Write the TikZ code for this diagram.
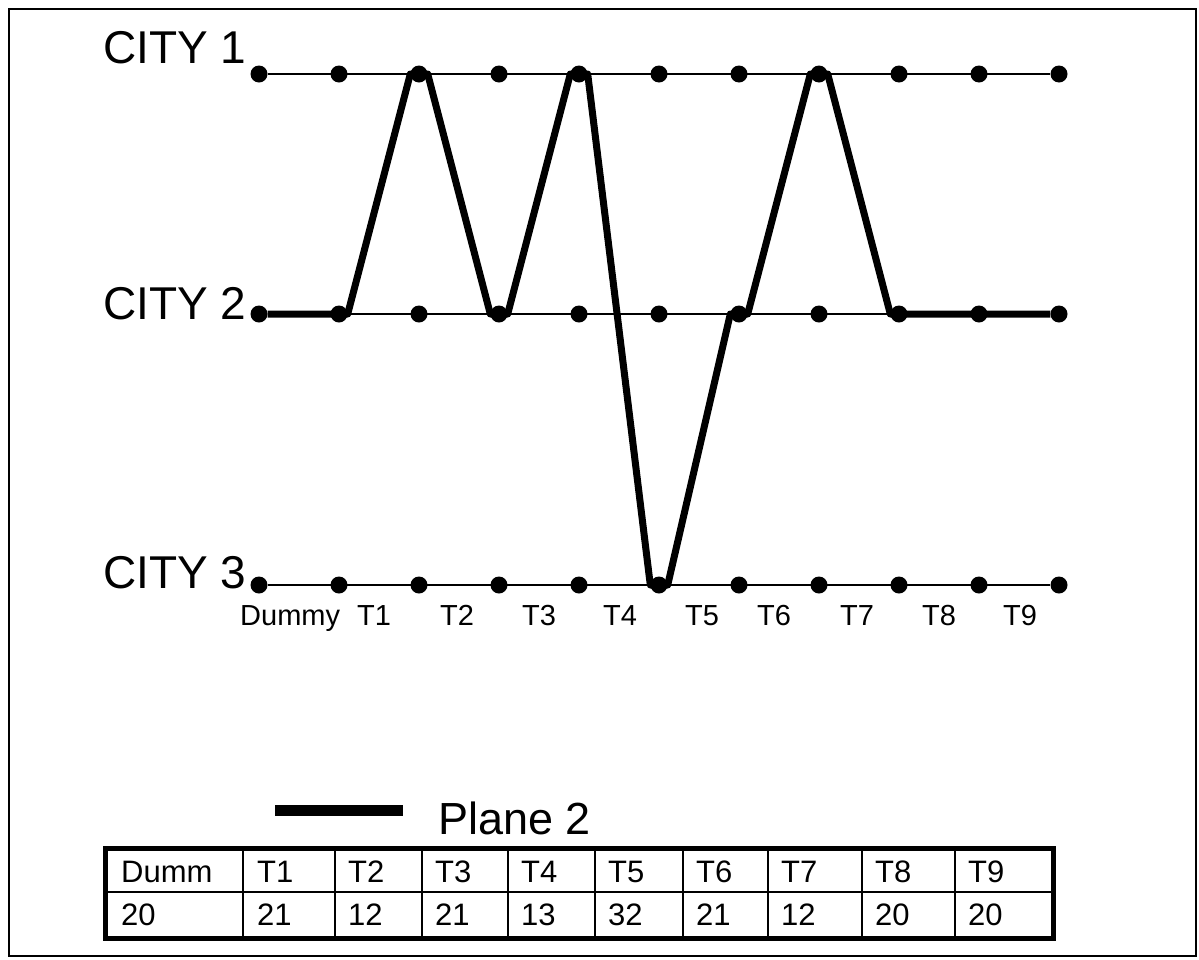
\documentclass[tikz,border=0pt]{standalone}
\usepackage{fontspec}
\setmainfont{Liberation Sans}
\begin{document}
\begin{tikzpicture}[
    x=1pt, y=-1pt,
    dot/.style={circle, fill, inner sep=0pt, minimum size=17pt},
    route/.style={line width=2pt},
    plane/.style={line width=7pt, line join=round},
    city/.style={anchor=base west, inner sep=0pt, font=\fontsize{46}{50}\selectfont},
    slot/.style={anchor=base west, inner sep=0pt, font=\fontsize{29}{32}\selectfont},
    cell/.style={anchor=base west, inner sep=0pt, font=\fontsize{31}{34}\selectfont},
    grid/.style={line width=2pt}
  ]
    \useasboundingbox (0,0) rectangle (1199,959);
    \draw[line width=2pt] (9,9) rectangle (1196,956);

    % time slots of the three cities
    \foreach \r/\y in {1/74,2/314,3/585}
      \foreach \i in {0,...,10}
        \node[dot] (c\r-\i) at (259+80*\i,\y) {};

    \node[city] (city1) at (103,63) {CITY 1};
    \node[city] (city2) at (103,319) {CITY 2};
    \node[city] (city3) at (103,588) {CITY 3};

    \draw[route] (c1-0) -- (c1-10);
    \draw[route] (c2-0) -- (c2-10);
    \draw[route] (c3-0) -- (c3-10);

    \foreach \x/\t [count=\i] in {240/Dummy,357/T1,440/T2,522/T3,603/T4,685/T5,757/T6,840/T7,922/T8,1003/T9}
      \node[slot] (slot\i) at (\x,625) {\t};

    % route of plane 2
    \draw[plane] (c2-0.east) -- (c2-1.west) -- (c2-1.east) -- (c1-2.west) -- (c1-2.east)
      -- (c2-3.west) -- (c2-3.east) -- (c1-4.west) -- (c1-4.east) -- (c3-5.west)
      -- (c3-5.east) -- (c2-6.west) -- (c2-6.east) -- (c1-7.west) -- (c1-7.east)
      -- (c2-8.west) -- (c2-8.east) -- (c2-9.west) -- (c2-9.east) -- (c2-10.west);

    % legend
    \coordinate (keyA) at (275,810);
    \coordinate (keyB) at (403,810);
    \draw[line width=11pt] (keyA) -- (keyB);
    \node[anchor=base west, inner sep=0pt, font=\fontsize{45}{50}\selectfont] (key) at (438,834) {Plane 2};

    % table
    \draw[grid] (107,892) -- (1053,892);
    \foreach \x in {243,335,422,508,595,683,768,862,955}
      \draw[grid] (\x,848) -- (\x,938);
    \draw[line width=5pt] (105.5,848) rectangle (1053,938);
    \foreach \x/\h/\v [count=\i] in {121/Dumm/20,257/T1/21,348/T2/12,435/T3/21,521/T4/13,608/T5/32,696/T6/21,781/T7/12,875/T8/20,968/T9/20} {
      \node[cell] (head\i) at (\x,882) {\h};
      \node[cell] (val\i) at (\x,925) {\v};
    }
\end{tikzpicture}
\end{document}
